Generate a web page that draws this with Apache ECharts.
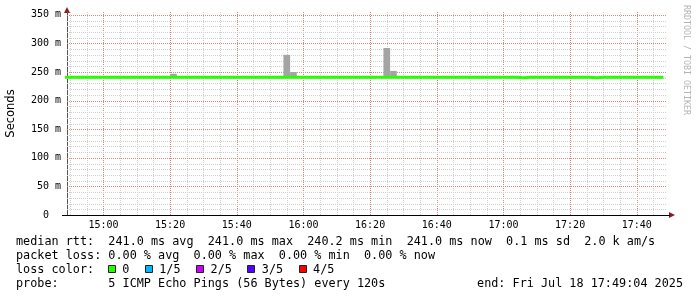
<!DOCTYPE html>
<html><head><meta charset="utf-8">
<script src="https://cdn.jsdelivr.net/npm/echarts@6/dist/echarts.min.js"></script>
<style>html,body{margin:0;padding:0;background:#fff}#c{width:697px;height:297px}</style>
</head><body><div id="c"></div>
<script>
// ---- data ----
const timeStart = '14:49:04';
const timeEnd = '17:49:04';
const xTickLabels = ['15:00','15:20','15:40','16:00','16:20','16:40','17:00','17:20','17:40'];
const yTickValues = [0, 50, 100, 150, 200, 250, 300, 350];
const yMax = 355;
const medianStart = '14:48';
const medianStepMin = 2;
const medianRtt = [
  241.0,241.0,241.0,241.0,241.0,241.0,241.0,241.0,241.0,241.0,
  241.0,241.0,241.0,241.0,241.0,241.0,241.0,241.0,241.0,241.0,
  241.0,241.0,241.0,241.0,241.0,241.0,241.0,241.0,241.0,241.0,
  241.0,241.0,241.0,241.0,241.0,241.0,241.0,241.0,241.0,241.0,
  241.0,241.0,241.0,241.0,241.0,241.0,241.0,241.0,241.0,241.0,
  241.0,241.0,241.0,241.0,241.0,241.0,241.0,241.0,241.0,241.0,
  241.0,241.0,241.0,241.0,241.0,241.0,241.0,241.0,240.2,241.0,
  241.0,241.0,241.0,241.0,241.0,241.0,241.0,241.0,241.0,240.2,
  241.0,241.0,241.0,241.0,241.0,241.0,241.0,241.0,241.0,241.0
];
const smokeTimes = ['15:20','15:54','15:56','16:24','16:26'];
const smokeLow  = [240.4, 240.5, 240.6, 240.4, 240.6];
const smokeHigh = [247, 280, 250, 292, 252];
const lossLabels = ['0','1/5','2/5','3/5','4/5'];
const lossColors = ['#26ff00','#00b8ff','#cc00ff','#5500ff','#ff0000'];
const rttStats = ['241.0 ms avg','241.0 ms max','240.2 ms min','241.0 ms now','0.1 ms sd','2.0 k am/s'];
const lossStats = ['0.00 % avg','0.00 % max','0.00 % min','0.00 % now'];
const probeText = '5 ICMP Echo Pings (56 Bytes) every 120s';
const endText = 'end: Fri Jul 18 17:49:04 2025';

// ---- helpers ----
function toMin(s){ const p = s.split(':').map(Number); return p[0]*60 + p[1] + (p[2]||0)/60; }
function fmt(v){ const h = Math.floor(v/60), m = Math.round(v - h*60); return h + ':' + String(m).padStart(2,'0'); }
const xMin = toMin(timeStart), xMax = toMin(timeEnd);
const mStart = toMin(medianStart);
const medianData = medianRtt.map((v,i)=>[mStart + i*medianStepMin, v]);
medianData.push([mStart + medianRtt.length*medianStepMin, medianRtt[medianRtt.length-1]]);
const smokeData = smokeTimes.map((t,i)=>[toMin(t), toMin(t)+medianStepMin, smokeLow[i], smokeHigh[i]]);

const xMajor = xTickLabels.map(s => toMin(s));
const gridData = [];
for (let v = Math.ceil(xMin/5)*5; v < xMax; v += 5) gridData.push({vert:true, v:v, major: xMajor.indexOf(v) >= 0});
for (let v = 10; v < yMax; v += 10) gridData.push({vert:false, v:v, major: yTickValues.indexOf(v) >= 0});

const MONO = '"DejaVu Sans Mono", monospace';
const chart = echarts.init(document.getElementById('c'), null, {renderer:'canvas'});

// footer graphics
const CW = 7.09, FX = 16, FS = 11.8;
const baseY = [241.5, 255.5, 269.5, 283.5];
const graphics = [];
function txt(x,y,text){ graphics.push({type:'text', x, y, silent:true, style:{text, font: FS+'px '+MONO, fill:'#000', verticalAlign:'middle', align:'left'}}); }
txt(FX, baseY[0], 'median rtt:  ' + rttStats.join('  '));
txt(FX, baseY[1], 'packet loss: ' + lossStats.join('  '));
txt(FX, baseY[2], 'loss color:');
let lx = FX + 13*CW - 0.5;
lossLabels.forEach((l,i)=>{
  graphics.push({type:'rect', silent:true, shape:{x:Math.round(lx)+0.5, y:265.5, width:7, height:7}, style:{fill:lossColors[i], stroke:'#222', lineWidth:1}});
  const tx = lx + 14.5;
  txt(tx, baseY[2], l);
  lx = tx + l.length*CW + 15.5;
});
txt(FX, baseY[3], 'probe:       ' + probeText);
graphics.push({type:'text', x:683, y:baseY[3], silent:true, style:{text:endText, font:FS+'px '+MONO, fill:'#000', verticalAlign:'middle', align:'right'}});
// watermark
graphics.push({type:'text', x:686, y:5, rotation:-Math.PI/2, silent:true, style:{text:'RRDTOOL / TOBI OETIKER', font:'8.3px '+MONO, fill:'#b4b4b4', verticalAlign:'middle', align:'left'}});
// axis arrows and extensions
graphics.push({type:'polygon', silent:true, shape:{points:[[64,13],[70,13],[67,7]]}, style:{fill:'#8b1c1c'}});
graphics.push({type:'polygon', silent:true, shape:{points:[[669,212],[669,218],[675,215]]}, style:{fill:'#8b1c1c'}});
graphics.push({type:'line', silent:true, shape:{x1:62, y1:215.5, x2:67, y2:215.5}, style:{stroke:'#000', lineWidth:1}});
graphics.push({type:'line', silent:true, shape:{x1:667, y1:215.5, x2:670, y2:215.5}, style:{stroke:'#000', lineWidth:1}});

chart.setOption({
  animation:false,
  backgroundColor:'#ffffff',
  grid:{left:67, top:12, width:600, height:203, outerBoundsMode:'none', containLabel:false},
  xAxis:{
    type:'value', min:xMin, max:xMax,
    axisLine:{show:true, lineStyle:{color:'#000', width:1}},
    axisTick:{show:false},
    splitLine:{show:false},
    axisLabel:{customValues:xMajor, formatter:fmt, margin:5, fontFamily:'DejaVu Sans Mono', fontSize:10, color:'#000'}
  },
  yAxis:{
    type:'value', min:0, max:yMax,
    name:'Seconds', nameLocation:'middle', nameGap:50, nameRotate:90,
    nameTextStyle:{fontFamily:'DejaVu Sans', fontSize:11.5, color:'#000'},
    axisLine:{show:true, lineStyle:{color:'#555', width:1}},
    axisTick:{show:false},
    splitLine:{show:false},
    axisLabel:{customValues:yTickValues, formatter:v => v===0 ? '0  ' : v + ' m', margin:6, fontFamily:'DejaVu Sans Mono', fontSize:10, color:'#000'}
  },
  graphic:graphics,
  series:[
    {
      type:'custom', name:'grid', z:1, silent:true,
      data:gridData.map(g => [g.v, 0]),
      renderItem:(params, api)=>{
        const cs = params.coordSys;
        const g = gridData[params.dataIndex];
        const style = {stroke: g.major ? '#e08080' : '#cfcfcf', lineWidth:1, lineDash:[1,1], fill:null};
        if (g.vert) {
          const x = Math.round(api.coord([g.v, 0])[0]) + 0.5;
          return {type:'line', shape:{x1:x, y1:cs.y, x2:x, y2:cs.y+cs.height}, style};
        } else {
          const y = Math.round(api.coord([xMin, g.v])[1]) + 0.5;
          return {type:'line', shape:{x1:cs.x, y1:y, x2:cs.x+cs.width, y2:y}, style};
        }
      }
    },
    {
      type:'custom', name:'smoke', z:2, silent:true, data:smokeData,
      encode:{x:[0,1], y:[2,3]},
      renderItem:(params, api)=>{
        const p0 = api.coord([api.value(0), api.value(3)]);
        const p1 = api.coord([api.value(1), api.value(2)]);
        return {type:'rect', shape:{x:p0[0], y:p0[1], width:p1[0]-p0[0], height:p1[1]-p0[1]}, style:{fill:'#a4a4a4'}};
      }
    },
    {
      type:'line', name:'median rtt', z:3, data:medianData, step:'end', showSymbol:false, clip:true,
      lineStyle:{color:'#26ff00', width:3}, silent:true
    }
  ]
});
</script></body></html>
